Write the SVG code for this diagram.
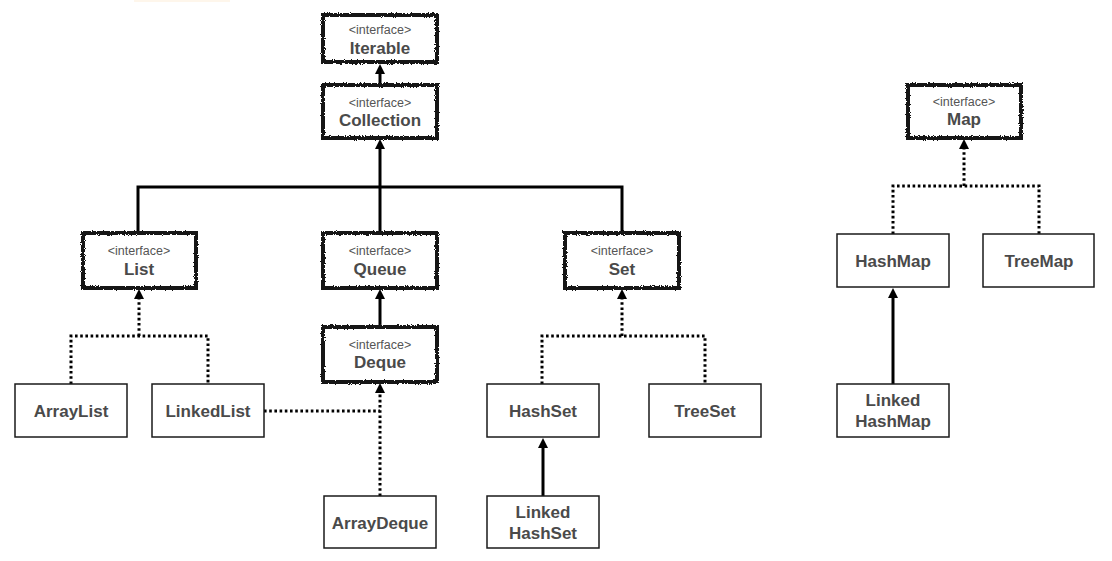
<svg xmlns="http://www.w3.org/2000/svg" width="1112" height="561" viewBox="0 0 1112 561">
  <defs>
    <!-- rough, hand-drawn edge for interface boxes -->
    <filter id="rough" x="-10%" y="-20%" width="120%" height="140%">
      <feTurbulence type="fractalNoise" baseFrequency="0.9" numOctaves="2" seed="3" result="noise"/>
      <feDisplacementMap in="SourceGraphic" in2="noise" scale="3.2" xChannelSelector="R" yChannelSelector="G"/>
    </filter>
    <marker id="arrow" viewBox="0 0 10 10" refX="0" refY="5" markerWidth="10" markerHeight="11" markerUnits="userSpaceOnUse" orient="auto">
      <path d="M0,0 L10,5 L0,10 Z" fill="#000"/>
    </marker>
    <style>
      .iface { fill: #fff; stroke: #161616; stroke-width: 4; filter: url(#rough); }
      .cls { fill: #fff; stroke: #1a1a1a; stroke-width: 1.5; }
      .tag { font-family: "Liberation Sans", Arial, sans-serif; font-size: 12.5px; fill: #555; text-anchor: middle; }
      .name { font-family: "Liberation Sans", Arial, sans-serif; font-size: 17px; font-weight: bold; fill: #4a4a4a; text-anchor: middle; }
      .solid { fill: none; stroke: #000; stroke-width: 3; }
      .dot { fill: none; stroke: #000; stroke-width: 3; stroke-dasharray: 2.6 2.6; }
    </style>
  </defs>

  <rect width="1112" height="561" fill="#fff"/>
  <!-- faint highlight strip at top edge -->
  <rect x="134" y="0" width="96" height="2" fill="#fbe6c6" opacity="0.35"/>

  <!-- connectors -->
  <g id="connectors">
    <path class="solid" d="M380,85 V74" marker-end="url(#arrow)"/>
    <path class="solid" d="M138,233 V187 H622 V233"/>
    <path class="solid" d="M380,233 V149" marker-end="url(#arrow)"/>
    <path class="solid" d="M380,327 V299" marker-end="url(#arrow)"/>

    <path class="dot" d="M71,384 V336 H208 V384"/>
    <path class="dot" d="M139,336 V299" marker-end="url(#arrow)"/>

    <path class="dot" d="M264,411 H380"/>
    <path class="dot" d="M380,496 V393" marker-end="url(#arrow)"/>

    <path class="dot" d="M542,384 V336 H705 V384"/>
    <path class="dot" d="M622,336 V299" marker-end="url(#arrow)"/>
    <path class="solid" d="M543,496 V448" marker-end="url(#arrow)"/>

    <path class="dot" d="M893,234 V186 H1039 V234"/>
    <path class="dot" d="M964,186 V149" marker-end="url(#arrow)"/>
    <path class="solid" d="M893,384 V298" marker-end="url(#arrow)"/>
  </g>

  <!-- interfaces -->
  <g id="iterable">
    <rect class="iface" x="323" y="15" width="114" height="47"/>
    <text class="tag" x="380" y="34">&lt;interface&gt;</text>
    <text class="name" x="380" y="54">Iterable</text>
  </g>
  <g id="collection">
    <rect class="iface" x="323" y="85" width="114" height="53"/>
    <text class="tag" x="380" y="107">&lt;interface&gt;</text>
    <text class="name" x="380" y="126">Collection</text>
  </g>
  <g id="list">
    <rect class="iface" x="83" y="233" width="113" height="55"/>
    <text class="tag" x="139" y="255">&lt;interface&gt;</text>
    <text class="name" x="139" y="275">List</text>
  </g>
  <g id="queue">
    <rect class="iface" x="323" y="233" width="114" height="55"/>
    <text class="tag" x="380" y="255">&lt;interface&gt;</text>
    <text class="name" x="380" y="275">Queue</text>
  </g>
  <g id="set">
    <rect class="iface" x="565" y="233" width="114" height="55"/>
    <text class="tag" x="622" y="255">&lt;interface&gt;</text>
    <text class="name" x="622" y="275">Set</text>
  </g>
  <g id="deque">
    <rect class="iface" x="323" y="327" width="114" height="55"/>
    <text class="tag" x="380" y="349">&lt;interface&gt;</text>
    <text class="name" x="380" y="368">Deque</text>
  </g>
  <g id="map">
    <rect class="iface" x="908" y="85" width="113" height="53"/>
    <text class="tag" x="964" y="106">&lt;interface&gt;</text>
    <text class="name" x="964" y="125">Map</text>
  </g>

  <!-- implementations -->
  <g id="arraylist">
    <rect class="cls" x="15" y="384" width="112" height="53"/>
    <text class="name" x="71" y="417">ArrayList</text>
  </g>
  <g id="linkedlist">
    <rect class="cls" x="152" y="384" width="112" height="53"/>
    <text class="name" x="208" y="417">LinkedList</text>
  </g>
  <g id="arraydeque">
    <rect class="cls" x="324" y="496" width="112" height="52"/>
    <text class="name" x="380" y="529">ArrayDeque</text>
  </g>
  <g id="hashset">
    <rect class="cls" x="487" y="384" width="112" height="53"/>
    <text class="name" x="543" y="417">HashSet</text>
  </g>
  <g id="treeset">
    <rect class="cls" x="649" y="384" width="112" height="53"/>
    <text class="name" x="705" y="417">TreeSet</text>
  </g>
  <g id="linkedhashset">
    <rect class="cls" x="487" y="496" width="112" height="52"/>
    <text class="name" x="543" y="518">Linked</text>
    <text class="name" x="543" y="539">HashSet</text>
  </g>
  <g id="hashmap">
    <rect class="cls" x="837" y="234" width="112" height="53"/>
    <text class="name" x="893" y="267">HashMap</text>
  </g>
  <g id="treemap">
    <rect class="cls" x="983" y="234" width="111" height="53"/>
    <text class="name" x="1039" y="267">TreeMap</text>
  </g>
  <g id="linkedhashmap">
    <rect class="cls" x="837" y="384" width="112" height="53"/>
    <text class="name" x="893" y="406">Linked</text>
    <text class="name" x="893" y="427">HashMap</text>
  </g>
</svg>
